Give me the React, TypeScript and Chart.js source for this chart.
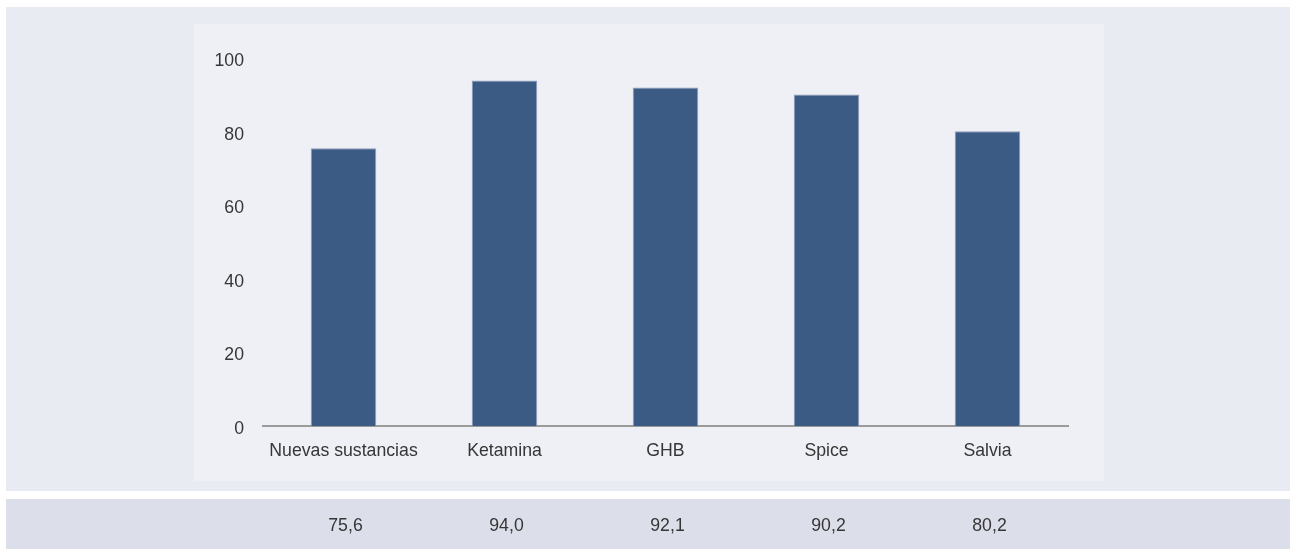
import React, { useEffect, useRef } from "react";
import { Chart, registerables } from "chart.js";

Chart.register(...registerables);

const categories = ["Nuevas sustancias", "Ketamina", "GHB", "Spice", "Salvia"];
const values = [75.6, 94.0, 92.1, 90.2, 80.2];
const yMin = 0;
const yMax = 100;
const yStep = 20;

const FONT = "'Liberation Sans', Arial, Helvetica, sans-serif";
const FONT_SIZE = 17.7;
const TEXT = "#363636";

const formatValue = (v: number) => v.toFixed(1).replace(".", ",");

const panelsPlugin = {
  id: "panels",
  beforeDraw(chart: any) {
    const ctx = chart.ctx;
    ctx.save();
    ctx.fillStyle = "#ffffff";
    ctx.fillRect(0, 0, chart.width, chart.height);
    ctx.fillStyle = "#e9ebf3";
    ctx.fillRect(6, 7, chart.width - 6, 484);
    ctx.fillStyle = "#eef0f6";
    ctx.fillRect(194, 24, 910, 457);
    ctx.fillStyle = "#dcdeea";
    ctx.fillRect(6, 499, chart.width - 6, 50);
    ctx.restore();
  },
  afterDraw(chart: any) {
    const ctx = chart.ctx;
    const xScale = chart.scales.x;
    ctx.save();
    ctx.font = `${FONT_SIZE}px ${FONT}`;
    ctx.fillStyle = TEXT;
    ctx.textAlign = "center";
    ctx.textBaseline = "middle";
    values.forEach((v, i) => {
      ctx.fillText(formatValue(v), xScale.getPixelForValue(i) + 2, 526.5);
    });
    ctx.restore();
  },
};

export default function App() {
  const canvasRef = useRef<HTMLCanvasElement | null>(null);

  useEffect(() => {
    document.body.style.margin = "0";
    document.body.style.background = "#ffffff";
    const canvas = canvasRef.current;
    if (!canvas) return;
    const chart = new Chart(canvas, {
      type: "bar",
      data: {
        labels: categories,
        datasets: [
          {
            data: values,
            backgroundColor: "#3b5a84",
            borderColor: "#8d9cbc",
            borderWidth: 1,
            barPercentage: 0.407,
            categoryPercentage: 1,
          },
        ],
      },
      options: {
        animation: false,
        responsive: false,
        devicePixelRatio: 1,
        layout: { padding: { top: 58.5, right: 222, bottom: 0, left: 0 } },
        plugins: {
          legend: { display: false },
          tooltip: { enabled: false },
          title: { display: false },
        },
        scales: {
          x: {
            z: 1,
            grid: { display: false, drawTicks: false },
            border: { display: true, color: "#9b9b9b", width: 2 },
            ticks: {
              color: TEXT,
              font: { family: FONT, size: FONT_SIZE },
              padding: 14.5,
              maxRotation: 0,
              autoSkip: false,
            },
            afterFit(scale: any) {
              scale.height = 124;
            },
          },
          y: {
            min: yMin,
            max: yMax,
            grid: { display: false, drawTicks: false },
            border: { display: false },
            ticks: {
              stepSize: yStep,
              color: TEXT,
              font: { family: FONT, size: FONT_SIZE },
              padding: 19,
              labelOffset: 3,
            },
            afterFit(scale: any) {
              scale.width = 263;
            },
          },
        },
      },
      plugins: [panelsPlugin],
    });
    return () => chart.destroy();
  }, []);

  return (
    <div style={{ width: 1290, height: 550 }}>
      <canvas ref={canvasRef} width={1290} height={550} style={{ display: "block" }} />
    </div>
  );
}
